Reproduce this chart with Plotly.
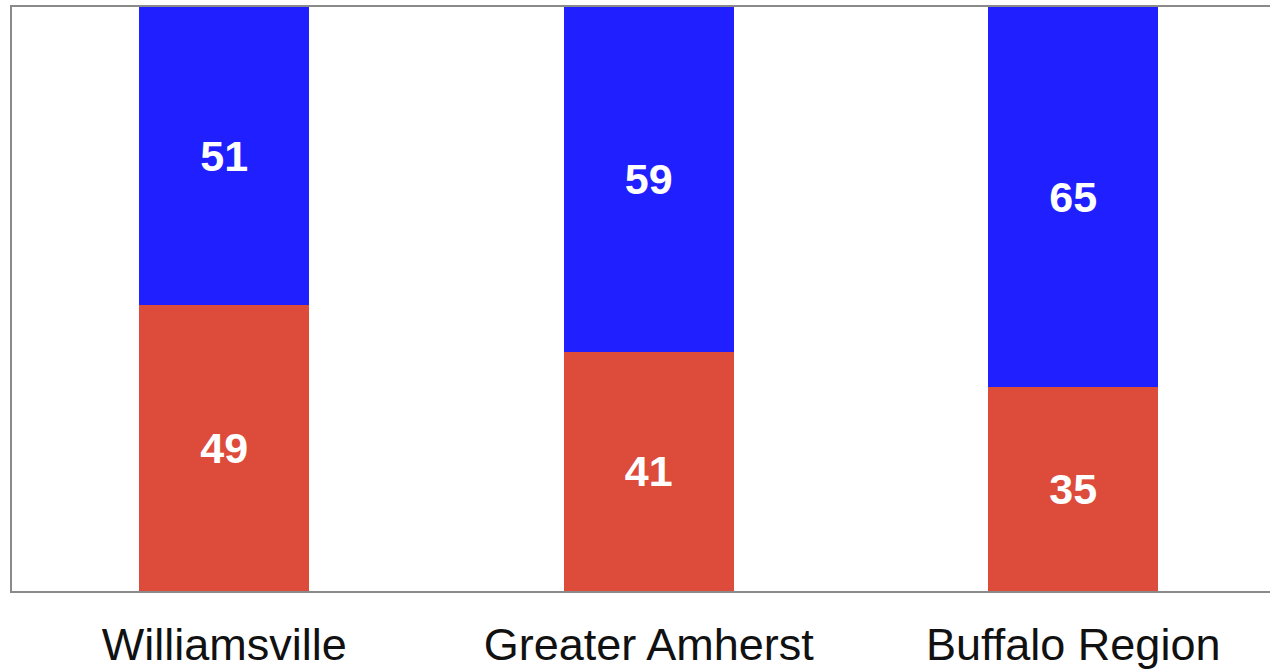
import plotly.graph_objects as go

categories = ["Williamsville", "Greater Amherst", "Buffalo Region"]
red_share = [49, 41, 35]
blue_share = [51, 59, 65]

RED = "#DD4B3B"
BLUE = "#1F1FFF"

fig = go.Figure()
for vals, color in [(red_share, RED), (blue_share, BLUE)]:
    fig.add_trace(go.Bar(
        x=categories,
        y=vals,
        width=0.4,
        marker=dict(color=color, line=dict(width=0)),
        text=vals,
        texttemplate="%{text}",
        textposition="inside",
        insidetextanchor="middle",
        textfont=dict(family="Arial, Liberation Sans", size=43, color="white", weight="bold"),
        showlegend=False,
        hoverinfo="skip",
    ))

fig.update_layout(
    barmode="stack",
    width=1270,
    height=669,
    margin=dict(l=12, r=0, t=7, b=78),
    paper_bgcolor="white",
    plot_bgcolor="white",
    uniformtext=dict(mode=False),
)
fig.update_xaxes(
    type="category",
    range=[-0.5, 2.4635],
    showline=True, mirror=True, linecolor="#8a8a8a", linewidth=2,
    showgrid=False, zeroline=False,
    ticks="outside", ticklen=13, tickcolor="rgba(0,0,0,0)",
    tickfont=dict(family="Arial, Liberation Sans", size=45, color="#111111"),
)
fig.update_yaxes(
    range=[0, 100],
    showline=True, mirror=False, linecolor="#8a8a8a", linewidth=2,
    showgrid=False, zeroline=False, showticklabels=False, ticks="",
)

fig.write_html("out.html")
